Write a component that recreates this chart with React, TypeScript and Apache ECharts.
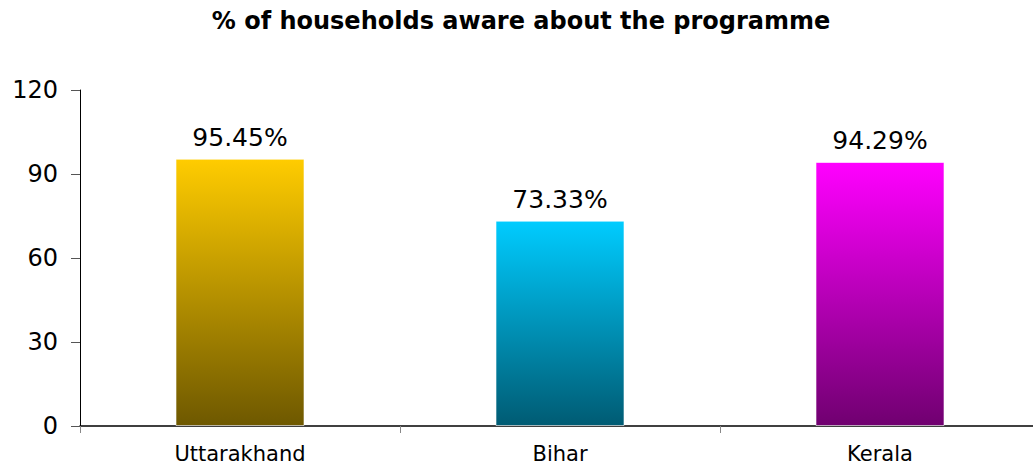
import React, { useEffect, useRef } from "react";
import * as echarts from "echarts";

const categories = ["Uttarakhand", "Bihar", "Kerala"];
const values = [95.45, 73.33, 94.29];
const topColors = ["#FFCC00", "#00CCFF", "#FF00FF"];
const bottomColors = ["#6E5800", "#005B73", "#700070"];
const yTicks = [0, 30, 60, 90, 120];

export default function App() {
  const ref = useRef<HTMLDivElement>(null);
  useEffect(() => {
    const chart = echarts.init(ref.current!, undefined, { renderer: "svg" });
    const font = "'DejaVu Sans', Arial, sans-serif";
    chart.setOption({
      animation: false,
      title: {
        text: "% of households aware about the programme",
        left: 516,
        textAlign: "center",
        top: 4,
        textStyle: { fontFamily: font, fontSize: 24, fontWeight: "bold", color: "#000" },
      },
      grid: { left: 80, width: 960, top: 90, bottom: 40, containLabel: false },
      xAxis: {
        type: "category",
        data: categories,
        axisLine: { lineStyle: { color: "#000", width: 1.5 } },
        axisTick: { show: true, length: 7, lineStyle: { color: "#888" } },
        axisLabel: { fontFamily: font, fontSize: 21, color: "#000", margin: 17 },
      },
      yAxis: {
        type: "value",
        min: yTicks[0],
        max: yTicks[yTicks.length - 1],
        interval: 30,
        splitLine: { show: false },
        axisLine: { show: true, lineStyle: { color: "#000", width: 1 } },
        axisTick: { show: true, length: 9, lineStyle: { color: "#555" } },
        axisLabel: { fontFamily: font, fontSize: 24, color: "#000", margin: 22 },
      },
      series: [
        {
          type: "bar",
          barWidth: 129,
          data: values.map((v, i) => ({
            value: v,
            itemStyle: {
              color: new echarts.graphic.LinearGradient(0, 0, 0, 1, [
                { offset: 0, color: topColors[i] },
                { offset: 1, color: bottomColors[i] },
              ]),
              borderColor: "rgba(255,255,255,0.6)",
              borderWidth: 1,
            },
          })),
          label: {
            show: true,
            position: "top",
            distance: 9,
            formatter: (p: any) => p.value.toFixed(2) + "%",
            fontFamily: font,
            fontSize: 25,
            color: "#000",
          },
        },
      ],
    });
    return () => chart.dispose();
  }, []);
  return (
    <div
      style={{
        position: "absolute",
        left: 0,
        top: 0,
        width: 1033,
        height: 466,
        overflow: "hidden",
      }}
    >
      <div ref={ref} style={{ width: 1045, height: 466 }} />
    </div>
  );
}
